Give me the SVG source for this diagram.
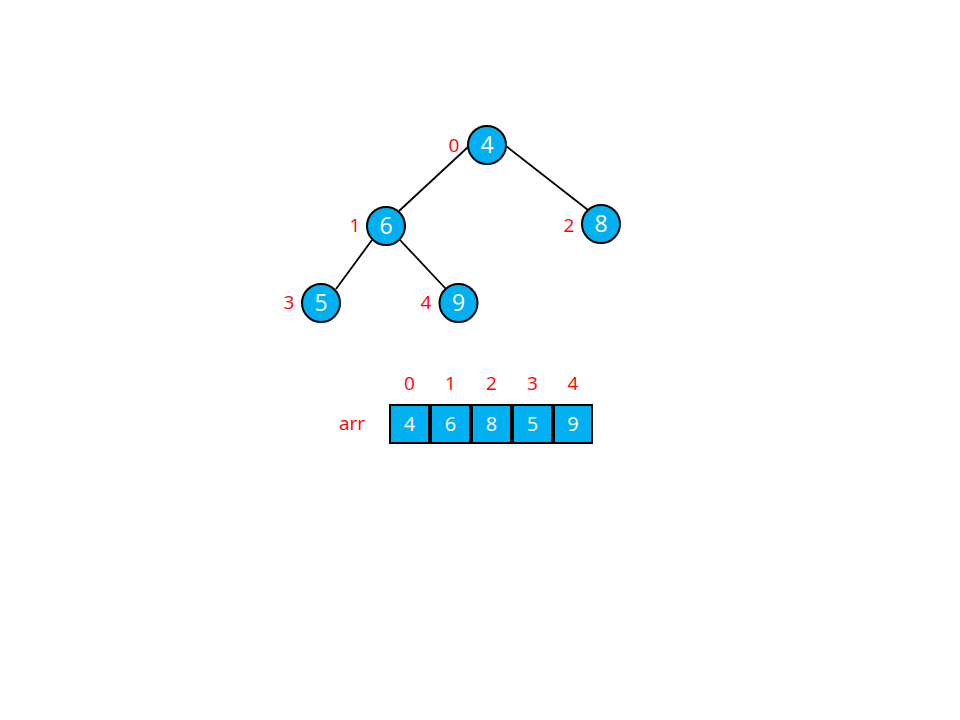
<svg xmlns="http://www.w3.org/2000/svg" width="960" height="720" viewBox="0 0 960 720">
<style>
.n{fill:#00B0F0;stroke:#000;stroke-width:2}
.v{fill:#fff;font-family:"Open Sans","Liberation Sans",sans-serif;font-size:23px;text-anchor:middle;dominant-baseline:central}
.bv{fill:#fff;font-family:"Open Sans","Liberation Sans",sans-serif;font-size:20px;text-anchor:middle;dominant-baseline:central}
.i{fill:#FF0000;font-family:"Open Sans","Liberation Sans",sans-serif;font-size:19px;text-anchor:middle;dominant-baseline:central}
.e{stroke:#000;stroke-width:1.8}
</style>
<rect width="960" height="720" fill="#fff"/>
<g id="connectors">
<line class="e" x1="468" y1="147" x2="399" y2="211"/>
<line class="e" x1="506" y1="146" x2="588" y2="210"/>
<line class="e" x1="372" y1="240" x2="336" y2="289"/>
<line class="e" x1="400" y1="240" x2="446" y2="289"/>
</g>
<g id="node0"><circle class="n" cx="487" cy="145" r="19"/><text class="v" x="487" y="144">4</text><text class="i" x="454" y="145">0</text></g>
<g id="node1"><circle class="n" cx="386" cy="226" r="19"/><text class="v" x="386" y="225">6</text><text class="i" x="355" y="225">1</text></g>
<g id="node2"><circle class="n" cx="601" cy="224" r="19"/><text class="v" x="601" y="223">8</text><text class="i" x="569" y="225">2</text></g>
<g id="node3"><circle class="n" cx="321" cy="303" r="19"/><text class="v" x="321" y="302">5</text><text class="i" x="289" y="302">3</text></g>
<g id="node4"><circle class="n" cx="458.5" cy="303" r="19"/><text class="v" x="458.5" y="302">9</text><text class="i" x="426" y="302">4</text></g>
<g id="array">
<text class="i" x="352" y="423">arr</text>
<rect class="n" x="390" y="405" width="39" height="38"/><text class="bv" x="409.5" y="423">4</text><text class="i" x="409.5" y="383">0</text>
<rect class="n" x="431" y="405" width="39" height="38"/><text class="bv" x="450.5" y="423">6</text><text class="i" x="450.5" y="383">1</text>
<rect class="n" x="472" y="405" width="39" height="38"/><text class="bv" x="491.5" y="423">8</text><text class="i" x="491.5" y="383">2</text>
<rect class="n" x="513" y="405" width="39" height="38"/><text class="bv" x="532.5" y="423">5</text><text class="i" x="532.5" y="383">3</text>
<rect class="n" x="554" y="405" width="38" height="38"/><text class="bv" x="573" y="423">9</text><text class="i" x="573" y="383">4</text>
</g>
</svg>
